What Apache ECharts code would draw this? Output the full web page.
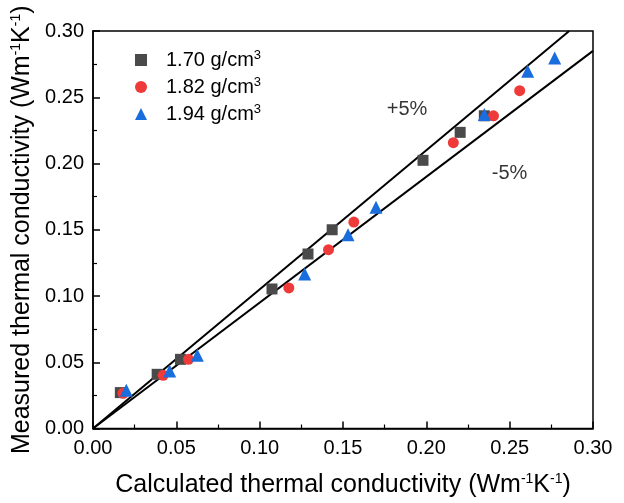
<!DOCTYPE html>
<html><head><meta charset="utf-8">
<script src="https://cdn.jsdelivr.net/npm/echarts@6/dist/echarts.min.js"></script>
<style>html,body{margin:0;padding:0;background:#fff}#c{width:624px;height:503px}</style>
</head><body><div id="c"></div>
<script>
const seriesNames = ['1.70 g/cm', '1.82 g/cm', '1.94 g/cm'];
const d170 = [[0.0164,0.0271],[0.0385,0.0409],[0.0525,0.0522],[0.1074,0.1053],[0.129,0.1317],[0.1435,0.150],[0.198,0.2024],[0.2203,0.2235],[0.2348,0.236]];
const d182 = [[0.018,0.0266],[0.0421,0.0401],[0.0573,0.0522],[0.1175,0.1061],[0.1413,0.135],[0.1565,0.1558],[0.2162,0.2157],[0.2403,0.236],[0.256,0.255]];
const d194 = [[0.020,0.0288],[0.046,0.0434],[0.0626,0.0552],[0.127,0.1166],[0.153,0.1462],[0.1698,0.167],[0.2348,0.237],[0.2608,0.2696],[0.277,0.2797]];
const plusLine = [[0,0],[0.3/1.05,0.3]];
const minusLine = [[0,0],[0.3,0.285]];
const annotations = [{text:'+5%', pos:[0.1884,0.2411]},{text:'-5%', pos:[0.2499,0.1925]}];
const colors = ['#4a4a4a','#ef3a3a','#1a6ddc'];
const symbols = ['rect','circle','triangle'];
const sizes = [11,11,13];

const F = 'Liberation Sans, Arial, sans-serif';
function supStyle(fs, pad){ return {fontSize:fs, fontFamily:F, color:'#000', verticalAlign:'top', padding:[0,0,pad,0]}; }
function axisCommon(){
  return {
    min:0, max:0.3, interval:0.05,
    axisLine:{show:true,onZero:false,lineStyle:{color:'#000',width:1.5}},
    axisTick:{show:true,inside:true,length:7,lineStyle:{color:'#000',width:1.5}},
    minorTick:{show:true,splitNumber:2,length:4,lineStyle:{color:'#000',width:1.2}},
    splitLine:{show:false},
    axisLabel:{color:'#000',fontSize:20,fontFamily:F,formatter:v=>v.toFixed(2)}
  };
}
const chart = echarts.init(document.getElementById('c'));
const dataSets = [d170,d182,d194];
const series = dataSets.map((d,i)=>({
  name: seriesNames[i], type:'scatter', data:d, symbol:symbols[i], symbolSize:sizes[i],
  itemStyle:{color:colors[i], opacity:1}, z:5
}));
series.push({type:'line', data:plusLine, symbol:'none', lineStyle:{color:'#000',width:2}, silent:true, z:3});
series.push({type:'line', data:minusLine, symbol:'none', lineStyle:{color:'#000',width:2}, silent:true, z:3});
series.push({type:'scatter', data:annotations.map(a=>({value:a.pos,name:a.text})), symbolSize:0, silent:true,
  label:{show:true, position:'inside', formatter:p=>p.name, color:'#000', fontSize:20, fontFamily:F}});
const titleRich = {a:{fontSize:25,fontFamily:F,color:'#000'}, s:supStyle(14,12)};
const xa = axisCommon();
Object.assign(xa,{type:'value', name:'{a|Calculated thermal conductivity (Wm}{s|-1}{a|K}{s|-1}{a|)}', nameLocation:'middle', nameGap:44,
  nameTextStyle:{rich:titleRich}});
xa.axisLabel.margin = 10;
const ya = axisCommon();
Object.assign(ya,{type:'value', name:'{a|Measured thermal conductivity (Wm}{s|-1}{a|K}{s|-1}{a|)}', nameLocation:'middle', nameGap:50,
  nameTextStyle:{rich:titleRich}});
ya.axisLabel.margin = 9;
chart.setOption({
  animation:false,
  grid:{left:93,right:31,top:31,bottom:73,show:true,borderColor:'#000',borderWidth:1.5,backgroundColor:'transparent'},
  xAxis:xa, yAxis:ya,
  legend:{data:seriesNames.map((n,i)=>({name:n,icon:symbols[i],itemStyle:{opacity:1}})), orient:'vertical', left:130, top:44, itemGap:6,
    itemWidth:12, itemHeight:12,
    formatter:n=>'{a|'+n+'}{s|3}',
    textStyle:{padding:[0,0,0,14], rich:{a:{fontSize:20,fontFamily:F,color:'#000',lineHeight:22}, s:supStyle(13,9)}}},
  series:series
});
</script></body></html>
